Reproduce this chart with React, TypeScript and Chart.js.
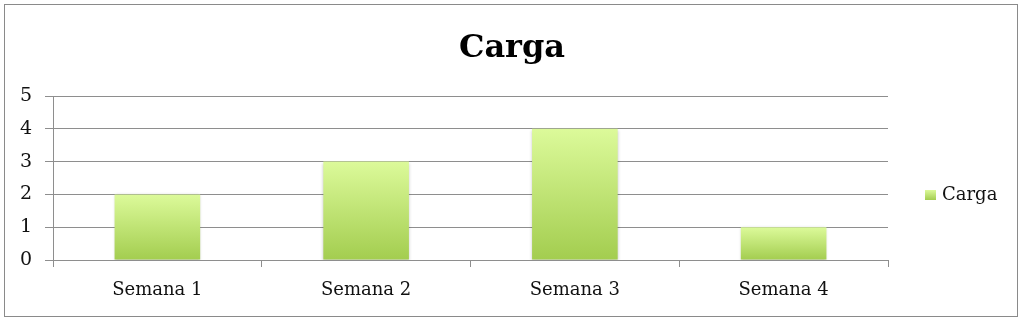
import React, { useEffect, useRef } from "react";
import { Chart, registerables, layouts } from "chart.js";

Chart.register(...registerables);

const categories: string[] = ["Semana 1", "Semana 2", "Semana 3", "Semana 4"];
const cargaValues: number[] = [2, 3, 4, 1];
const seriesLabel = "Carga";
const yTicks: number[] = [0, 1, 2, 3, 4, 5];

const FONT = "'DejaVu Serif', 'Liberation Serif', serif";
const GRID = "#8e8e8e";
const BAR_TOP = "#dcfa9a";
const BAR_BOTTOM = "#a3cd4f";

// Right-hand legend as its own layout box, so the title stays centred on the full width
const sideLegend = {
  id: "sideLegend",
  beforeInit(chart: any) {
    const box: any = {
      position: "right",
      weight: 1000,
      fullSize: false,
      options: {},
      left: 0,
      top: 0,
      right: 0,
      bottom: 0,
      width: 0,
      height: 0,
      isHorizontal: () => false,
      update(maxWidth: number, maxHeight: number) {
        box.width = 136;
        box.height = maxHeight;
      },
      draw() {
        const ctx = chart.ctx;
        const ds = chart.data.datasets[0];
        const x = box.left + 37;
        const cy = chart.chartArea.top + 99;
        ctx.save();
        const g = ctx.createLinearGradient(0, cy - 5, 0, cy + 5);
        g.addColorStop(0, BAR_TOP);
        g.addColorStop(1, BAR_BOTTOM);
        ctx.fillStyle = g;
        ctx.fillRect(x, cy - 5, 11, 10);
        ctx.fillStyle = "#111";
        ctx.font = `18px ${FONT}`;
        ctx.textBaseline = "middle";
        ctx.textAlign = "left";
        ctx.fillText(ds.label, x + 17, cy);
        ctx.restore();
      },
    };
    layouts.addBox(chart, box);
    chart.$sideLegendBox = box;
  },
  afterDestroy(chart: any) {
    if (chart.$sideLegendBox) layouts.removeBox(chart, chart.$sideLegendBox);
  },
};

// Soft shadow around the bars
const barShadow = {
  id: "barShadow",
  beforeDatasetsDraw(chart: any) {
    const ctx = chart.ctx;
    ctx.save();
    ctx.shadowColor = "rgba(0,0,0,0.22)";
    ctx.shadowBlur = 3;
    ctx.shadowOffsetX = 0;
    ctx.shadowOffsetY = 1;
  },
  afterDatasetsDraw(chart: any) {
    chart.ctx.restore();
  },
};

export default function App() {
  const canvasRef = useRef<HTMLCanvasElement | null>(null);

  useEffect(() => {
    if (!canvasRef.current) return;
    const chart = new Chart(canvasRef.current, {
      type: "bar",
      data: {
        labels: categories,
        datasets: [
          {
            label: seriesLabel,
            data: cargaValues,
            backgroundColor: (c: any) => {
              const ch = c.chart;
              const y = ch.scales?.y;
              if (!y || c.parsed == null) return "#c0e378";
              const top = y.getPixelForValue(c.parsed.y);
              const base = y.getPixelForValue(0);
              if (!isFinite(top) || !isFinite(base) || top === base) return "#c0e378";
              const g = ch.ctx.createLinearGradient(0, top, 0, base);
              g.addColorStop(0, BAR_TOP);
              g.addColorStop(1, BAR_BOTTOM);
              return g;
            },
            borderWidth: 0,
            categoryPercentage: 1,
            barPercentage: 0.41,
          },
        ],
      },
      options: {
        animation: false,
        responsive: false,
        layout: { padding: { left: 0, right: 0, top: 0, bottom: 0 } },
        plugins: {
          legend: { display: false },
          tooltip: { enabled: false },
          title: {
            display: true,
            text: seriesLabel,
            color: "#000",
            font: { family: FONT, size: 32, weight: "bold" },
            padding: { top: 29.5, bottom: 28.1 },
          },
        },
        scales: {
          x: {
            grid: {
              display: true,
              drawOnChartArea: false,
              drawTicks: true,
              tickLength: 7,
              color: GRID,
              offset: true,
            },
            border: { display: true, color: GRID, width: 1 },
            ticks: {
              color: "#111",
              font: { family: FONT, size: 18 },
              padding: 13,
            },
            afterFit: (s: any) => {
              s.height = 65;
            },
          },
          y: {
            min: 0,
            max: 5,
            afterBuildTicks: (s: any) => {
              s.ticks = yTicks.map((v) => ({ value: v }));
            },
            grid: {
              color: GRID,
              tickLength: 8,
              drawTicks: true,
            },
            border: { display: true, color: GRID, width: 1 },
            ticks: {
              color: "#111",
              font: { family: FONT, size: 19 },
              padding: 13,
            },
            afterFit: (s: any) => {
              s.width = 53;
            },
          },
        },
      },
      plugins: [sideLegend, barShadow],
    });
    return () => chart.destroy();
  }, []);

  return (
    <div style={{ position: "fixed", left: 0, top: 0, width: 1024, height: 325, background: "#fff" }}>
      <div
        style={{
          position: "absolute",
          left: 4,
          top: 4,
          width: 1014,
          height: 313,
          border: "1px solid #8a8a8a",
          boxSizing: "border-box",
          pointerEvents: "none",
        }}
      />
      <canvas
        ref={canvasRef}
        width={1024}
        height={325}
        style={{ position: "absolute", left: 0, top: 0, width: 1024, height: 325 }}
      />
    </div>
  );
}
